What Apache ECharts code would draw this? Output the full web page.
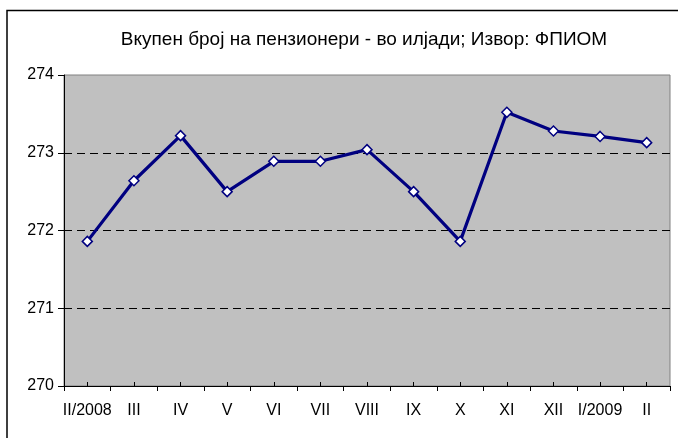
<!DOCTYPE html>
<html lang="mk">
<head>
    <meta charset="UTF-8">
    <title>Пензионери</title>
    <script src="https://cdn.jsdelivr.net/npm/echarts@6/dist/echarts.min.js"></script>
    <style>
        body {
            padding: 0;
            margin: 0;
            border: none;
            background: #fff;
        }
    </style>
</head>
<body>
<div style="width: 678px;height: 438px" id="ec"></div>
<script>
    // месеци
    let months = ['II/2008', 'III', 'IV', 'V', 'VI', 'VII', 'VIII', 'IX', 'X', 'XI', 'XII', 'I/2009', 'II'];
    // вкупен број на пензионери, илјади
    let pensioners = [271.86, 272.64, 273.22, 272.50, 272.89, 272.89, 273.04, 272.50, 271.86, 273.52, 273.28, 273.21, 273.13];
    let yTicks = [270, 271, 272, 273, 274];

    let ec = echarts.init(document.getElementById('ec'));
    let font = 'Liberation Sans, Arial, sans-serif';
    let option = {
        animation: false,
        title: {
            text: 'Вкупен број на пензионери - во илјади; Извор: ФПИОМ',
            left: 359,
            top: 25,
            textAlign: 'center',
            textStyle: {
                fontFamily: font,
                fontSize: 19,
                fontWeight: 'normal',
                color: '#000'
            }
        },
        graphic: [{
            type: 'rect',
            shape: {x: 7, y: 10.5, width: 720, height: 500},
            style: {fill: 'none', stroke: '#000', lineWidth: 1.5},
            silent: true
        }],
        grid: {
            left: 64,
            right: 8,
            top: 75,
            bottom: 52,
            show: true,
            backgroundColor: '#c0c0c0',
            borderColor: '#808080',
            borderWidth: 1
        },
        xAxis: [{
            type: 'category',
            data: months,
            boundaryGap: true,
            axisLine: {lineStyle: {color: '#000', width: 1}},
            axisTick: {show: true, interval: 0, length: 5, lineStyle: {color: '#000'}},
            axisLabel: {
                interval: 0,
                margin: 17,
                fontFamily: font,
                fontSize: 16,
                color: '#000'
            }
        }, {
            // ситни цртички во средината на секој месец
            type: 'category',
            data: months,
            position: 'bottom',
            boundaryGap: true,
            axisLine: {show: false},
            axisTick: {show: true, inside: true, alignWithLabel: true, interval: 0, length: 4, lineStyle: {color: '#000'}},
            axisLabel: {show: false}
        }],
        yAxis: {
            type: 'value',
            min: yTicks[0],
            max: yTicks[yTicks.length - 1],
            interval: 1,
            axisLine: {show: true, lineStyle: {color: '#000', width: 1}},
            axisTick: {show: true, length: 6, lineStyle: {color: '#000'}},
            axisLabel: {
                margin: 10,
                fontFamily: font,
                fontSize: 16,
                color: '#000'
            },
            splitLine: {
                show: true,
                showMinLine: false,
                showMaxLine: false,
                lineStyle: {color: '#000', type: [8, 5], width: 1}
            }
        },
        series: [{
            type: 'line',
            data: pensioners,
            symbol: 'diamond',
            symbolSize: 10,
            lineStyle: {color: '#000080', width: 3.2},
            itemStyle: {color: '#fff', borderColor: '#000080', borderWidth: 1.5}
        }]
    };
    ec.setOption(option, true);
</script>
</body>
</html>
